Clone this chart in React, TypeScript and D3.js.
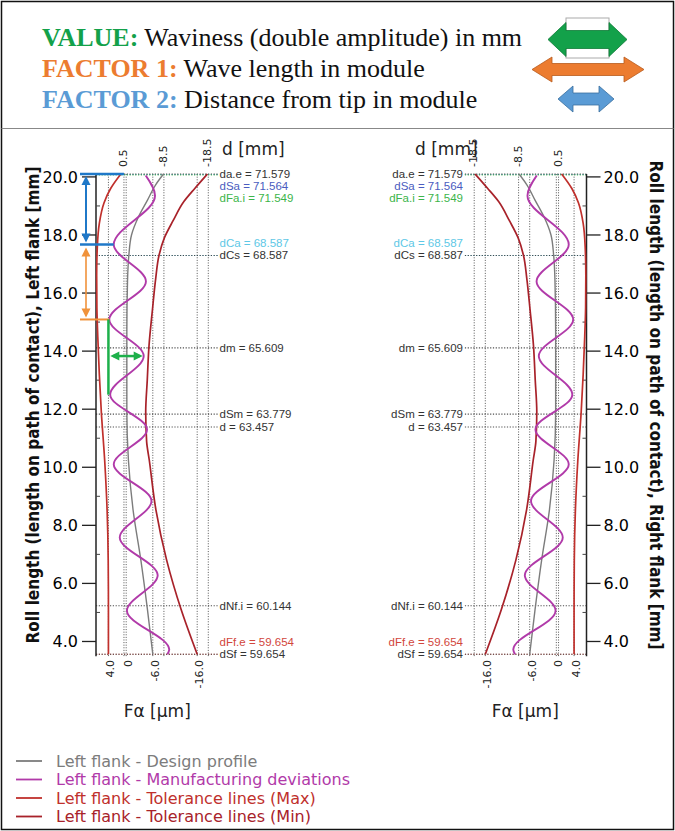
import React from "react";
import * as d3 from "d3";

const W = 675;
const H = 831;

// ---------- header ----------
const headerKeys = ["VALUE:", "FACTOR 1:", "FACTOR 2:"];
const headerTexts = [
  "Waviness (double amplitude) in mm",
  "Wave length in module",
  "Distance from tip in module",
];
const headerColors = ["#13a14a", "#ec7c30", "#5a9bd5"];

// ---------- diameters ----------
const diaNames = ["da.e", "dSa", "dFa.i", "dCa", "dCs", "dm", "dSm", "d", "dNf.i", "dFf.e", "dSf"];
const diaValues = [71.579, 71.564, 71.549, 68.587, 68.587, 65.609, 63.779, 63.457, 60.144, 59.654, 59.654];
const diaColors = ["#333333", "#4a5cc0", "#3cb54a", "#5ec8e6", "#333333", "#333333", "#333333", "#333333", "#333333", "#d2463c", "#333333"];
const diaLabelShift = [0, 11.5, 23, -12, 0, 0, 0, 0, 0, -12.5, 0];
const baseRadius = 29.614;

// ---------- profiles (roll length [mm], Fa [µm]) ----------
const designL = [20.1, 19.72, 19.2, 18.6, 18.0, 17.3, 16.4, 14.7, 11.9, 10.25, 8.53, 6.81, 5.09, 3.56];
const designV = [-8.4, -6.6, -4.8, -2.7, -1.2, -0.6, -0.3, -0.15, -0.15, -0.5, -1.55, -3.3, -4.8, -6.0];

const deviationL = [20.05, 19.35, 17.67, 16.4, 15.09, 13.83, 12.5, 11.3, 10.1, 8.84, 7.58, 6.28, 5.06, 3.72, 3.56];
const deviationV = [-4.4, -6.5, 2.8, -4.45, 3.8, -3.95, 3.6, -4.7, 2.8, -5.7, 1.45, -7.1, -0.17, -9.7, -9.3];

const tolMaxL = [20.1, 19.6, 19.1, 18.4, 17.6, 16.6, 15.5, 14.5, 13.2, 11.9, 10.25, 8.53, 6.81, 5.09, 3.56];
const tolMaxV = [1.2, 3.5, 5.0, 6.05, 6.5, 6.65, 6.6, 6.4, 6.05, 5.6, 4.85, 4.3, 4.05, 4.0, 4.0];

const tolMinL = [20.1, 19.61, 19.15, 18.5, 17.9, 17.3, 16.5, 15.4, 14.2, 13.0, 11.9, 10.9, 10.25, 8.53, 6.81, 5.09, 3.56];
const tolMinV = [-18.3, -15.5, -13.0, -10.6, -8.6, -7.4, -6.65, -5.9, -5.15, -4.75, -4.4, -4.6, -5.2, -6.7, -9.1, -12.4, -16.0];

// ---------- axes ----------
const rollTicks = [4, 6, 8, 10, 12, 14, 16, 18, 20];
const rollMinor = [5, 7, 9, 11, 13, 15, 17, 19];
const bottomTicks = [4, 0, -6, -16];
const bottomTickLabels = ["4.0", "0", "-6.0", "-16.0"];
const topTicks = [0.5, -8.5, -18.5];
const topTickLabels = ["0.5", "-8.5", "-18.5"];

// ---------- annotation (left flank) ----------
const factor2Roll = [20.097, 17.67];
const factor1Roll = [17.67, 15.09];
const valueRoll = 13.83;
const valueRange = [3.8, -3.95];
const valueBarRoll = [15.09, 12.5];

// ---------- legend ----------
const legendLabels = [
  "Left flank - Design profile",
  "Left flank - Manufacturing deviations",
  "Left flank - Tolerance lines (Max)",
  "Left flank - Tolerance lines (Min)",
];
const legendColors = ["#7c7c7c", "#b13aa9", "#c0302c", "#a8222a"];

const COL_DESIGN = legendColors[0];
const COL_DEV = legendColors[1];
const COL_MAX = legendColors[2];
const COL_MIN = legendColors[3];

const rollOf = (d: number) => Math.sqrt((d / 2) * (d / 2) - baseRadius * baseRadius);

const y = d3.scaleLinear().domain([3.5, 20.1]).range([656, 174]);

const zip = (a: number[], b: number[]) => a.map((v, i) => [v, b[i]] as [number, number]);

const SANS = "'DejaVu Sans', sans-serif";
const NARROW = "'Liberation Sans', Arial, sans-serif";

function doubleArrow(x0: number, x1: number, cy: number, hh: number, sh: number, hl: number) {
  return `M${x0},${cy} L${x0 + hl},${cy - hh} L${x0 + hl},${cy - sh} L${x1 - hl},${cy - sh} L${x1 - hl},${cy - hh} L${x1},${cy} L${x1 - hl},${cy + hh} L${x1 - hl},${cy + sh} L${x0 + hl},${cy + sh} L${x0 + hl},${cy + hh} Z`;
}

function Panel({ side }: { side: "left" | "right" }) {
  const left = side === "left";
  const x = left
    ? d3.scaleLinear().domain([6.8, -20.8]).range([96, 218.5])
    : d3.scaleLinear().domain([-20.8, 6.8]).range([464, 586.5]);
  const axisX = x(6.8);
  const farX = x(-20.8);
  const line = d3
    .line<[number, number]>()
    .x((d) => x(d[1]))
    .y((d) => y(d[0]))
    .curve(d3.curveMonotoneY);
  const topY = y(rollOf(diaValues[0]));
  const botY = y(rollOf(diaValues[diaValues.length - 1]));
  const dir = left ? -1 : 1;
  const uniqueGrid = [...bottomTicks, ...topTicks];
  const centerX = (x(6.8) + x(-20.8)) / 2;
  return (
    <g>
      {uniqueGrid.map((v, i) => (
        <line key={"g" + i} x1={x(v)} x2={x(v)} y1={topY} y2={botY + 2} stroke="#555" strokeWidth={1} strokeDasharray="1,1.6" />
      ))}
      {diaValues.map((dv, i) => (
        <line key={"h" + i} x1={axisX} x2={farX} y1={y(rollOf(dv))} y2={y(rollOf(dv))} stroke={diaColors[i]} strokeWidth={1.1} strokeDasharray="1.2,1.6" opacity={0.85} />
      ))}
      {diaValues.map((dv, i) => (
        <text
          key={"t" + i}
          x={left ? farX + 1 : farX - 1}
          y={y(rollOf(dv)) + 4 + diaLabelShift[i]}
          textAnchor={left ? "start" : "end"}
          fontFamily={NARROW}
          fontSize={11.5}
          fill={diaColors[i]}
        >
          {`${diaNames[i]} = ${dv.toFixed(3)}`}
        </text>
      ))}
      <line x1={axisX} x2={axisX} y1={topY} y2={botY + 2} stroke="#222" strokeWidth={1.5} />
      {rollTicks.map((t) => (
        <g key={"rt" + t}>
          <line x1={axisX} x2={axisX + dir * 14} y1={y(t)} y2={y(t)} stroke="#222" strokeWidth={1.3} />
          <text
            x={left ? axisX - 18 : axisX + 17}
            y={y(t) + 6}
            textAnchor={left ? "end" : "start"}
            fontFamily={SANS}
            fontSize={16}
            fill="#000"
          >
            {t.toFixed(1)}
          </text>
        </g>
      ))}
      {rollMinor.map((t) => (
        <line key={"rm" + t} x1={axisX} x2={axisX - dir * 4} y1={y(t)} y2={y(t)} stroke="#444" strokeWidth={1} />
      ))}
      {bottomTicks.map((v, i) => (
        <text key={"bt" + i} transform={`translate(${x(v) + 6},660) rotate(-90)`} textAnchor="end" fontFamily={SANS} fontSize={11} fill="#222">
          {bottomTickLabels[i]}
        </text>
      ))}
      {topTicks.map((v, i) => (
        <text key={"tt" + i} transform={`translate(${x(v) + 3},167) rotate(-90)`} textAnchor="start" fontFamily={SANS} fontSize={11} fill="#222">
          {topTickLabels[i]}
        </text>
      ))}
      <text x={left ? 222 : 415} y={155} fontFamily={SANS} fontSize={17} fill="#222">
        d [mm]
      </text>
      <text x={centerX} y={717} textAnchor="middle" fontFamily={SANS} fontSize={17} fill="#222">
        Fα [µm]
      </text>
      <text
        transform={left ? `translate(39,405) rotate(-90)` : `translate(650,405) rotate(90)`}
        textAnchor="middle"
        fontFamily={SANS}
        fontSize={17}
        fontWeight="bold"
        fontStretch="condensed"
        fill="#111"
      >
        {`Roll length (length on path of contact), ${left ? "Left" : "Right"} flank [mm]`}
      </text>
      <path d={line(zip(tolMaxL, tolMaxV)) || ""} fill="none" stroke={COL_MAX} strokeWidth={1.7} />
      <path d={line(zip(tolMinL, tolMinV)) || ""} fill="none" stroke={COL_MIN} strokeWidth={1.7} />
      <path d={line(zip(designL, designV)) || ""} fill="none" stroke={COL_DESIGN} strokeWidth={1.4} />
      <path d={line(zip(deviationL, deviationV)) || ""} fill="none" stroke={COL_DEV} strokeWidth={1.9} />
    </g>
  );
}

function Annotation() {
  const x = d3.scaleLinear().domain([6.8, -20.8]).range([96, 218.5]);
  const ax = 86;
  const x0 = 80;
  const blue = "#1f78c8";
  const orange = "#f0923a";
  const green = "#1db04a";
  const yA = y(factor2Roll[0]);
  const yB = y(factor2Roll[1]);
  const yC = y(factor1Roll[1]);
  const head = (px: number, py: number, up: boolean, col: string) => (
    <path d={`M${px},${py} L${px - 4.5},${py + (up ? 9 : -9)} L${px + 4.5},${py + (up ? 9 : -9)} Z`} fill={col} />
  );
  const headH = (px: number, py: number, leftward: boolean, col: string) => (
    <path d={`M${px},${py} L${px + (leftward ? 9 : -9)},${py - 4.5} L${px + (leftward ? 9 : -9)},${py + 4.5} Z`} fill={col} />
  );
  const yv = y(valueRoll);
  const gx0 = x(valueRange[0]);
  const gx1 = x(valueRange[1]);
  return (
    <g>
      <line x1={x0} x2={x(0.5)} y1={yA} y2={yA} stroke={blue} strokeWidth={2.5} />
      <line x1={x0} x2={x(deviationV[2])} y1={yB} y2={yB} stroke={blue} strokeWidth={2.5} />
      <line x1={ax} x2={ax} y1={yA + 4} y2={yB - 4} stroke={blue} strokeWidth={2} />
      {head(ax, yA + 2, true, blue)}
      {head(ax, yB - 2, false, blue)}
      <line x1={x0} x2={x(deviationV[4])} y1={yC} y2={yC} stroke={orange} strokeWidth={2} />
      <line x1={ax} x2={ax} y1={yB + 6} y2={yC - 4} stroke={orange} strokeWidth={1.6} />
      {head(ax, yB + 3, true, orange)}
      {head(ax, yC - 2, false, orange)}
      <line x1={x(4.0)} x2={x(4.0)} y1={yC} y2={y(valueBarRoll[1])} stroke={green} strokeWidth={2.5} />
      <line x1={gx0 + 4} x2={gx1 - 4} y1={yv} y2={yv} stroke={green} strokeWidth={2.5} />
      {headH(gx0 + 1, yv, true, green)}
      {headH(gx1 - 1, yv, false, green)}
    </g>
  );
}

export default function App() {
  return (
    <svg
      width={W}
      height={H}
      viewBox={`0 0 ${W} ${H}`}
      style={{ position: "absolute", left: 0, top: 0, background: "#fff" }}
    >
      <rect x={0} y={0} width={W} height={H} fill="#fff" />
      <rect x={1.5} y={1.5} width={W - 3} height={H - 3} fill="none" stroke="#111" strokeWidth={1.5} />
      <line x1={1.5} x2={W - 1.5} y1={128.5} y2={128.5} stroke="#888" strokeWidth={1.2} />

      {headerKeys.map((k, i) => (
        <text key={k} x={42} y={46 + i * 31} fontFamily="'Liberation Serif', 'Times New Roman', serif" fontSize={26} fill="#111">
          <tspan fontWeight="bold" fill={headerColors[i]}>
            {k}
          </tspan>
          <tspan> {headerTexts[i]}</tspan>
        </text>
      ))}
      <rect x={566} y={18} width={43} height={40} fill="#fff" stroke="#aaa" strokeWidth={1} />
      <path d={doubleArrow(548, 627, 39.5, 17, 9, 18)} fill={headerColors[0]} stroke="#0d7a36" strokeWidth={0.8} />
      <path d={doubleArrow(532, 644, 69.5, 12.5, 6, 20)} fill={headerColors[1]} stroke="#b85a1c" strokeWidth={0.8} />
      <path d={doubleArrow(558, 614, 99, 13, 6, 15)} fill={headerColors[2]} stroke="#3a6f9e" strokeWidth={0.8} />

      <Panel side="left" />
      <Panel side="right" />
      <Annotation />

      {legendLabels.map((l, i) => (
        <g key={l}>
          <line x1={16} x2={42} y1={761 + i * 18.5} y2={761 + i * 18.5} stroke={legendColors[i]} strokeWidth={1.8} />
          <text x={56} y={766.5 + i * 18.5} fontFamily={SANS} fontSize={16} fill={legendColors[i]}>
            {l}
          </text>
        </g>
      ))}
    </svg>
  );
}
